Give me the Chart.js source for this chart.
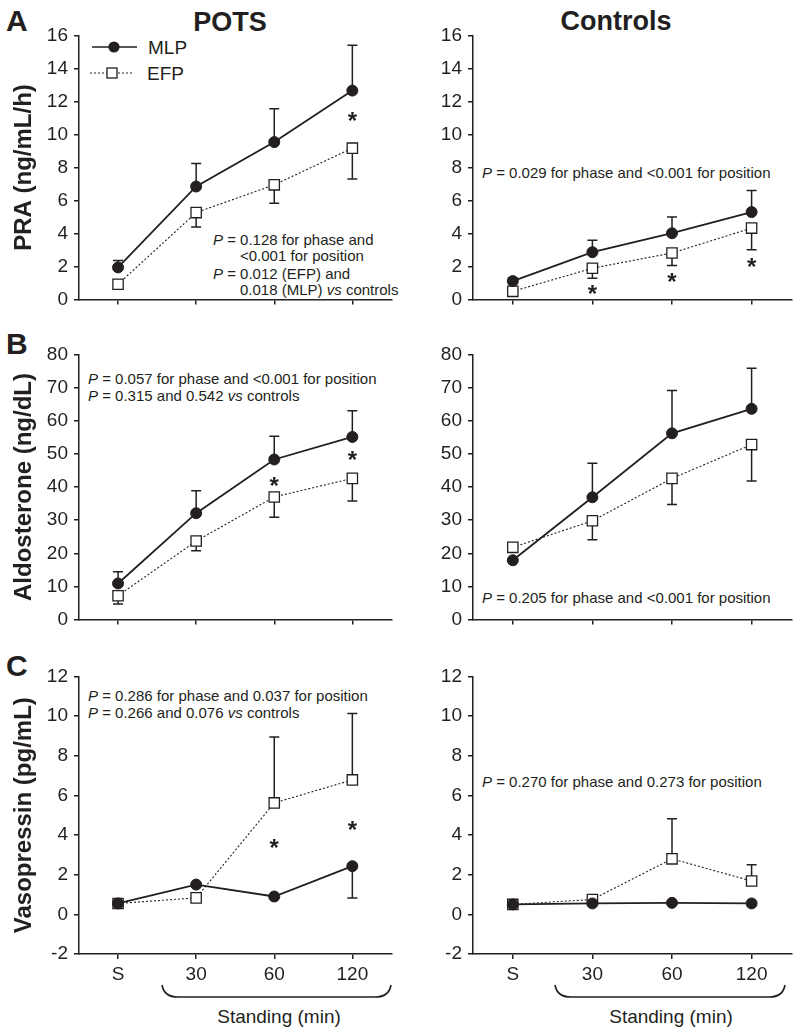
<!DOCTYPE html>
<html><head><meta charset="utf-8">
<script src="https://cdn.jsdelivr.net/npm/chart.js@4.4.0/dist/chart.umd.min.js"></script>
<style>
body{margin:0;background:#fff;}
#wrap{position:relative;width:800px;height:1033px;overflow:hidden;font-family:"Liberation Sans",Arial,sans-serif;color:#231f20;background:#fff;}
canvas{position:absolute;}
.t{position:absolute;white-space:nowrap;line-height:1;}
.p{font-size:15px;}
.c{transform:translateX(-50%);}
svg{position:absolute;left:0;top:0;}
</style></head><body><div id="wrap">
<div class="t c" style="left:230px;top:9px;font-size:27px;font-weight:bold;">POTS</div>
<div class="t c" style="left:616px;top:8px;font-size:27px;font-weight:bold;">Controls</div>
<div class="t" style="left:6px;top:6px;font-size:30px;font-weight:bold;">A</div>
<div class="t" style="left:6px;top:329px;font-size:30px;font-weight:bold;">B</div>
<div class="t" style="left:6px;top:651px;font-size:30px;font-weight:bold;">C</div>
<div class="t" style="left:148px;top:38px;font-size:19px;">MLP</div>
<div class="t" style="left:147px;top:64px;font-size:19px;">EFP</div>
<div class="t p" style="left:213px;top:232px;"><i>P</i> = 0.128 for phase and</div>
<div class="t p" style="left:240px;top:248px;">&lt;0.001 for position</div>
<div class="t p" style="left:213px;top:266px;"><i>P</i> = 0.012 (EFP) and</div>
<div class="t p" style="left:240px;top:282px;">0.018 (MLP) <i>vs</i> controls</div>
<div class="t p" style="left:482px;top:165px;"><i>P</i> = 0.029 for phase and &lt;0.001 for position</div>
<div class="t p" style="left:88px;top:371px;"><i>P</i> = 0.057 for phase and &lt;0.001 for position</div>
<div class="t p" style="left:88px;top:388px;"><i>P</i> = 0.315 and 0.542 <i>vs</i> controls</div>
<div class="t p" style="left:482px;top:590px;"><i>P</i> = 0.205 for phase and &lt;0.001 for position</div>
<div class="t p" style="left:88px;top:688px;"><i>P</i> = 0.286 for phase and 0.037 for position</div>
<div class="t p" style="left:88px;top:705px;"><i>P</i> = 0.266 and 0.076 <i>vs</i> controls</div>
<div class="t p" style="left:482px;top:774px;"><i>P</i> = 0.270 for phase and 0.273 for position</div>
<div class="t c" style="left:279px;top:1007px;font-size:19px;">Standing (min)</div>
<div class="t c" style="left:671px;top:1007px;font-size:19px;">Standing (min)</div>
<svg width="800" height="1033" style="pointer-events:none;z-index:2">
  <g stroke="#231f20" fill="none" stroke-width="1.6">
    <path d="M162,985 Q164,997 178,997 L375,997 Q389,997 391,985"/>
    <path d="M555,985 Q557,997 571,997 L769,997 Q783,997 785,985"/>
    <line x1="92" y1="47" x2="137" y2="47"/>
    <line x1="90" y1="73" x2="133" y2="73" stroke-width="1" stroke-dasharray="2,2"/>
  </g>
  <circle cx="114" cy="47" r="5.6" fill="#231f20"/>
  <rect x="107" y="68" width="10" height="10" fill="#fff" stroke="#231f20" stroke-width="1.3"/>
</svg>
</div>
<script>
// ---------- data ----------
const categories = ['S', '30', '60', '120'];

// Panel A: PRA (ng/mL/h)
const praPotsMLP = [1.95, 6.85, 9.54, 12.66];
const praPotsMLPErr = [2.37, 8.24, 11.56, 15.41];
const praPotsEFP = [0.93, 5.27, 6.95, 9.17];
const praPotsEFPErr = [null, 4.4, 5.83, 7.31];
const praPotsStars = [null, null, null, 11.06];

const praCtrlMLP = [1.12, 2.87, 4.02, 5.30];
const praCtrlMLPErr = [1.32, 3.6, 5.0, 6.6];
const praCtrlEFP = [0.5, 1.9, 2.82, 4.33];
const praCtrlEFPErr = [null, 1.3, 2.07, 3.02];
const praCtrlStars = [null, 0.6, 1.32, 2.27];

// Panel B: Aldosterone (ng/dL)
const aldoPotsMLP = [10.9, 32.1, 48.3, 55.1];
const aldoPotsMLPErr = [14.4, 38.9, 55.3, 63.0];
const aldoPotsEFP = [7.2, 23.7, 37.0, 42.6];
const aldoPotsEFPErr = [4.7, 20.8, 30.9, 35.8];
const aldoPotsStars = [null, null, 41.7, 49.6];

const aldoCtrlMLP = [17.9, 36.9, 56.2, 63.6];
const aldoCtrlMLPErr = [null, 47.2, 69.1, 75.8];
const aldoCtrlEFP = [21.8, 29.8, 42.6, 52.8];
const aldoCtrlEFPErr = [null, 24.1, 34.7, 41.8];
const aldoCtrlStars = [null, null, null, null];

// Panel C: Vasopressin (pg/mL)
const vasoPotsMLP = [0.55, 1.5, 0.9, 2.43];
const vasoPotsMLPErr = [null, null, null, 0.83];
const vasoPotsEFP = [0.55, 0.83, 5.62, 6.78];
const vasoPotsEFPErr = [null, null, 8.95, 10.13];
const vasoPotsStars = [null, null, 3.55, 4.5];

const vasoCtrlMLP = [0.5, 0.55, 0.58, 0.55];
const vasoCtrlMLPErr = [null, null, null, null];
const vasoCtrlEFP = [0.5, 0.75, 2.8, 1.68];
const vasoCtrlEFPErr = [null, null, 4.82, 2.5];
const vasoCtrlStars = [null, null, null, null];

// y-axis ranges / titles
const praTicks = {min: 0, max: 16, step: 2};
const aldoTicks = {min: 0, max: 80, step: 10};
const vasoTicks = {min: -2, max: 12, step: 2};
const yTitles = ['PRA (ng/mL/h)', 'Aldosterone (ng/dL)', 'Vasopressin (pg/mL)'];

// ---------- drawing ----------
const INK = '#231f20';
const FONT = '"Liberation Sans", Arial, sans-serif';

const errPlugin = {
  id: 'err',
  beforeDatasetsDraw(chart) {
    const ctx = chart.ctx, xs = chart.scales.x, ys = chart.scales.y;
    chart.data.datasets.forEach(ds => {
      if (!ds.errEnd) return;
      ctx.save();
      ctx.strokeStyle = INK; ctx.lineWidth = 1.5;
      ds.errEnd.forEach((e, i) => {
        if (e == null) return;
        const px = xs.getPixelForValue(i);
        const p0 = ys.getPixelForValue(ds.data[i]);
        const p1 = ys.getPixelForValue(e);
        ctx.beginPath();
        ctx.moveTo(px, p0); ctx.lineTo(px, p1);
        ctx.moveTo(px - 5, p1); ctx.lineTo(px + 5, p1);
        ctx.stroke();
      });
      ctx.restore();
    });
  },
  afterDatasetsDraw(chart, args, opts) {
    const stars = opts.stars || [];
    const ctx = chart.ctx, xs = chart.scales.x, ys = chart.scales.y;
    ctx.save();
    ctx.fillStyle = INK;
    ctx.font = 'bold 24px ' + FONT;
    ctx.textAlign = 'center';
    ctx.textBaseline = 'alphabetic';
    const m = ctx.measureText('*');
    const off = (m.actualBoundingBoxAscent - m.actualBoundingBoxDescent) / 2;
    stars.forEach((v, i) => {
      if (v == null) return;
      ctx.fillText('*', xs.getPixelForValue(i), ys.getPixelForValue(v) + off);
    });
    ctx.restore();
  }
};

const rows = [
  {top: 18, chartH: 270, xH: 14, showX: false, ticks: praTicks, title: yTitles[0],
   left: [praPotsMLP, praPotsMLPErr, praPotsEFP, praPotsEFPErr, praPotsStars],
   right: [praCtrlMLP, praCtrlMLPErr, praCtrlEFP, praCtrlEFPErr, praCtrlStars]},
  {top: 337, chartH: 271, xH: 14, showX: false, ticks: aldoTicks, title: yTitles[1],
   left: [aldoPotsMLP, aldoPotsMLPErr, aldoPotsEFP, aldoPotsEFPErr, aldoPotsStars],
   right: [aldoCtrlMLP, aldoCtrlMLPErr, aldoCtrlEFP, aldoCtrlEFPErr, aldoCtrlStars]},
  {top: 659, chartH: 280, xH: 35, showX: true, ticks: vasoTicks, title: yTitles[2],
   left: [vasoPotsMLP, vasoPotsMLPErr, vasoPotsEFP, vasoPotsEFPErr, vasoPotsStars],
   right: [vasoCtrlMLP, vasoCtrlMLPErr, vasoCtrlEFP, vasoCtrlEFPErr, vasoCtrlStars]}
];

const wrap = document.getElementById('wrap');
const PAD_TOP = 15;

rows.forEach(row => {
  [0, 1].forEach(col => {
    const d = col === 0 ? row.left : row.right;
    const cv = document.createElement('canvas');
    const h = PAD_TOP + row.chartH + row.xH;
    cv.width = 400; cv.height = h;
    cv.style.width = '400px'; cv.style.height = h + 'px';
    cv.style.left = (col * 400) + 'px'; cv.style.top = row.top + 'px';
    wrap.insertBefore(cv, wrap.querySelector('svg'));
    const yW = col === 0 ? 79 : 73;
    const padR = col === 0 ? 2 : 7;
    new Chart(cv, {
      type: 'line',
      data: {
        labels: categories,
        datasets: [
          {label: 'MLP', data: d[0], errEnd: d[1], borderColor: INK, borderWidth: 1.8,
           pointStyle: 'circle', pointRadius: 5.5, pointBackgroundColor: INK, pointBorderColor: INK,
           pointBorderWidth: 1, tension: 0},
          {label: 'EFP', data: d[2], errEnd: d[3], borderColor: INK, borderWidth: 1.1,
           borderDash: [2, 2], pointStyle: 'rect', pointRadius: 7.3, pointBackgroundColor: '#fff',
           pointBorderColor: INK, pointBorderWidth: 1.3, tension: 0}
        ]
      },
      options: {
        responsive: false, animation: false, devicePixelRatio: 1,
        events: [],
        layout: {padding: {top: PAD_TOP, left: 0, right: padR, bottom: 0}},
        plugins: {legend: {display: false}, tooltip: {enabled: false}, err: {stars: d[4]}},
        scales: {
          x: {
            type: 'category', offset: true,
            grid: {display: true, drawOnChartArea: false, drawTicks: true, tickLength: 5,
                   color: INK, lineWidth: 1.5, offset: false},
            border: {display: true, color: INK, width: 1.5},
            ticks: {display: row.showX, font: {size: 19, family: FONT}, color: INK, padding: 4,
                    maxRotation: 0, autoSkip: false},
            afterFit(s) { s.height = row.xH; }
          },
          y: {
            min: row.ticks.min, max: row.ticks.max,
            ticks: {stepSize: row.ticks.step, font: {size: 19, family: FONT}, color: INK, padding: 6},
            grid: {display: true, drawOnChartArea: false, drawTicks: true, tickLength: 5,
                   color: INK, lineWidth: 1.5},
            border: {display: true, color: INK, width: 1.5},
            title: {display: col === 0, text: row.title, color: INK,
                    font: {size: 24, weight: 'bold', family: FONT}, padding: {top: 10, bottom: 0}},
            afterFit(s) { s.width = yW; }
          }
        }
      },
      plugins: [errPlugin]
    });
  });
});
</script>
</body></html>
